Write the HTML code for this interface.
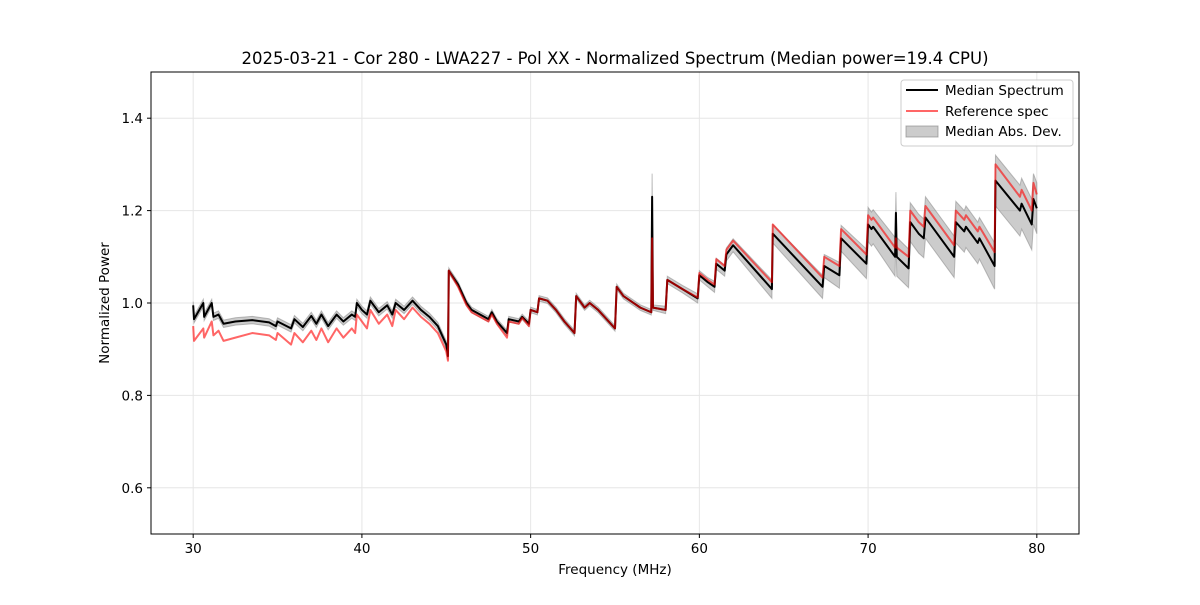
<!DOCTYPE html>
<html><head><meta charset="utf-8"><style>
body{margin:0;background:#fff}
svg{font-family:"DejaVu Sans","Liberation Sans",sans-serif}
</style></head><body>
<svg id="chart" width="1200" height="600" viewBox="0 0 1200 600">
<rect width="1200" height="600" fill="#fff"/>
<g id="grid"></g>
<g id="marks"></g>
<rect x="151" y="72" width="928" height="462" fill="none" stroke="#000" stroke-width="1"/>
<g id="axes"></g>
<text x="615" y="64" font-size="16.5" text-anchor="middle">2025-03-21 - Cor 280 - LWA227 - Pol XX - Normalized Spectrum (Median power=19.4 CPU)</text>
<text x="615" y="574" font-size="13.5" text-anchor="middle">Frequency (MHz)</text>
<text x="0" y="0" font-size="13.5" text-anchor="middle" transform="translate(109,303) rotate(-90)">Normalized Power</text>
<g>
<rect x="901" y="80" width="172" height="66" rx="3" fill="#fff" fill-opacity="0.8" stroke="#ccc"/>
<line x1="906" y1="90" x2="938" y2="90" stroke="#000" stroke-width="2"/>
<text x="945" y="95" font-size="13.5">Median Spectrum</text>
<line x1="906" y1="111" x2="938" y2="111" stroke="rgba(255,0,0,0.6)" stroke-width="2"/>
<text x="945" y="116" font-size="13.5">Reference spec</text>
<rect x="906" y="126" width="32" height="11" fill="rgba(128,128,128,0.4)" stroke="rgba(128,128,128,0.6)"/>
<text x="945" y="136" font-size="13.5">Median Abs. Dev.</text>
</g>
</svg>
<script>
const freqs=[30.0,30.05,30.6,30.65,31.1,31.2,31.5,31.8,32.5,33.5,34.5,34.9,35.0,35.8,36.0,36.5,37.0,37.3,37.6,38.0,38.5,38.9,39.4,39.6,39.7,40.0,40.3,40.5,41.0,41.5,41.8,42.0,42.5,43.0,43.5,44.0,44.5,45.0,45.1,45.15,45.7,46.2,46.5,47.0,47.5,47.7,48.0,48.6,48.7,49.3,49.5,49.9,50.0,50.4,50.5,51.0,51.5,52.0,52.6,52.7,53.2,53.5,54.0,55.0,55.1,55.5,56.5,57.15,57.2,57.25,58.0,58.1,59.0,59.9,60.0,60.5,60.9,61.0,61.5,61.6,62.0,64.3,64.35,67.3,67.4,68.3,68.4,69.9,70.0,70.2,70.3,71.6,71.65,71.7,72.4,72.5,73.0,73.3,73.4,75.1,75.2,75.7,75.8,76.5,76.6,77.5,77.55,79.0,79.1,79.7,79.8,80.0];
const median=[0.995,0.965,1.0,0.97,1.0,0.97,0.975,0.955,0.96,0.963,0.958,0.95,0.96,0.945,0.965,0.948,0.972,0.955,0.975,0.95,0.975,0.96,0.975,0.97,1.0,0.985,0.975,1.005,0.98,0.995,0.975,1.0,0.985,1.005,0.985,0.97,0.95,0.91,0.885,1.07,1.04,1.0,0.985,0.975,0.965,0.98,0.96,0.935,0.965,0.96,0.97,0.955,0.985,0.98,1.01,1.005,0.985,0.96,0.935,1.015,0.99,1.0,0.985,0.945,1.035,1.015,0.99,0.98,1.23,0.99,0.985,1.05,1.03,1.01,1.06,1.045,1.035,1.085,1.07,1.105,1.125,1.03,1.15,1.035,1.08,1.06,1.14,1.085,1.17,1.16,1.165,1.1,1.195,1.1,1.075,1.175,1.15,1.14,1.185,1.1,1.175,1.155,1.165,1.13,1.14,1.08,1.265,1.2,1.215,1.17,1.225,1.205];
const reference=[0.95,0.918,0.945,0.925,0.96,0.93,0.94,0.918,0.925,0.935,0.93,0.92,0.935,0.91,0.935,0.915,0.94,0.92,0.945,0.915,0.945,0.925,0.945,0.935,0.975,0.96,0.945,0.985,0.955,0.975,0.95,0.985,0.965,0.99,0.97,0.955,0.935,0.895,0.875,1.07,1.035,0.995,0.98,0.97,0.96,0.975,0.955,0.925,0.96,0.955,0.968,0.95,0.985,0.98,1.01,1.005,0.985,0.96,0.935,1.015,0.99,1.0,0.985,0.945,1.035,1.015,0.99,0.98,1.14,0.99,0.985,1.05,1.03,1.012,1.065,1.05,1.04,1.095,1.08,1.115,1.135,1.045,1.17,1.055,1.1,1.08,1.16,1.105,1.19,1.18,1.185,1.12,1.14,1.12,1.1,1.2,1.175,1.165,1.21,1.125,1.2,1.18,1.19,1.155,1.165,1.11,1.3,1.23,1.245,1.2,1.26,1.235];
const mad=[0.008,0.008,0.008,0.008,0.008,0.008,0.008,0.008,0.008,0.008,0.008,0.008,0.008,0.008,0.008,0.008,0.008,0.008,0.008,0.008,0.008,0.008,0.008,0.008,0.008,0.008,0.008,0.008,0.008,0.008,0.008,0.008,0.008,0.008,0.008,0.008,0.008,0.008,0.008,0.006,0.006,0.006,0.006,0.006,0.006,0.006,0.006,0.006,0.006,0.006,0.006,0.006,0.006,0.006,0.006,0.006,0.006,0.006,0.006,0.006,0.006,0.006,0.006,0.006,0.006,0.006,0.006,0.006,0.05,0.006,0.008,0.008,0.008,0.01,0.01,0.01,0.012,0.012,0.012,0.014,0.014,0.02,0.02,0.025,0.025,0.028,0.028,0.032,0.037,0.037,0.037,0.042,0.045,0.042,0.042,0.042,0.042,0.042,0.045,0.045,0.045,0.045,0.045,0.045,0.045,0.05,0.055,0.055,0.055,0.055,0.055,0.055];
const xTicks=[30,40,50,60,70,80];
const yTicks=[0.6,0.8,1.0,1.2,1.4];

const X0=151,X1=1079,Y0=72,Y1=534,XMIN=27.5,XMAX=82.5,YMIN=0.5,YMAX=1.5;
const sx=f=>X0+(f-XMIN)/(XMAX-XMIN)*(X1-X0);
const sy=v=>Y1-(v-YMIN)/(YMAX-YMIN)*(Y1-Y0);
const NS='http://www.w3.org/2000/svg';
function mk(tag,attrs,parent){const e=document.createElementNS(NS,tag);for(const k in attrs)e.setAttribute(k,attrs[k]);parent.appendChild(e);return e;}
const grid=document.getElementById('grid'),marks=document.getElementById('marks'),axes=document.getElementById('axes');
xTicks.forEach(t=>{
 const x=sx(t);
 const g=mk('line',{x1:x,x2:x,y1:Y0,y2:Y1,stroke:'#e6e6e6','stroke-width':1},grid);
 
 
 mk('line',{x1:x,x2:x,y1:Y1,y2:Y1+4,stroke:'#000'},axes);
 const l=mk('text',{x:x,y:Y1+19,'font-size':13.5,'text-anchor':'middle'},axes);
 l.textContent=t;
 
 
});
yTicks.forEach(t=>{
 const y=sy(t);
 const g=mk('line',{x1:X0,x2:X1,y1:y,y2:y,stroke:'#e6e6e6','stroke-width':1},grid);
 
 
 mk('line',{x1:X0-4,x2:X0,y1:y,y2:y,stroke:'#000'},axes);
 const l=mk('text',{x:X0-8,y:y+5,'font-size':13.5,'text-anchor':'end'},axes);
 l.textContent=t.toFixed(1);
 
 
});
let up=freqs.map((f,i)=>sx(f)+','+sy(median[i]+mad[i]));
let dn=freqs.map((f,i)=>sx(f)+','+sy(median[i]-mad[i])).reverse();
const band=mk('polygon',{points:up.concat(dn).join(' '),fill:'rgba(128,128,128,0.4)',stroke:'rgba(128,128,128,0.5)','stroke-width':1},marks);


const ml=mk('polyline',{points:freqs.map((f,i)=>sx(f)+','+sy(median[i])).join(' '),fill:'none',stroke:'#000','stroke-width':2,'stroke-linejoin':'round'},marks);


const rl=mk('polyline',{points:freqs.map((f,i)=>sx(f)+','+sy(reference[i])).join(' '),fill:'none',stroke:'rgba(255,0,0,0.6)','stroke-width':2,'stroke-linejoin':'round'},marks);


</script>
</body></html>
